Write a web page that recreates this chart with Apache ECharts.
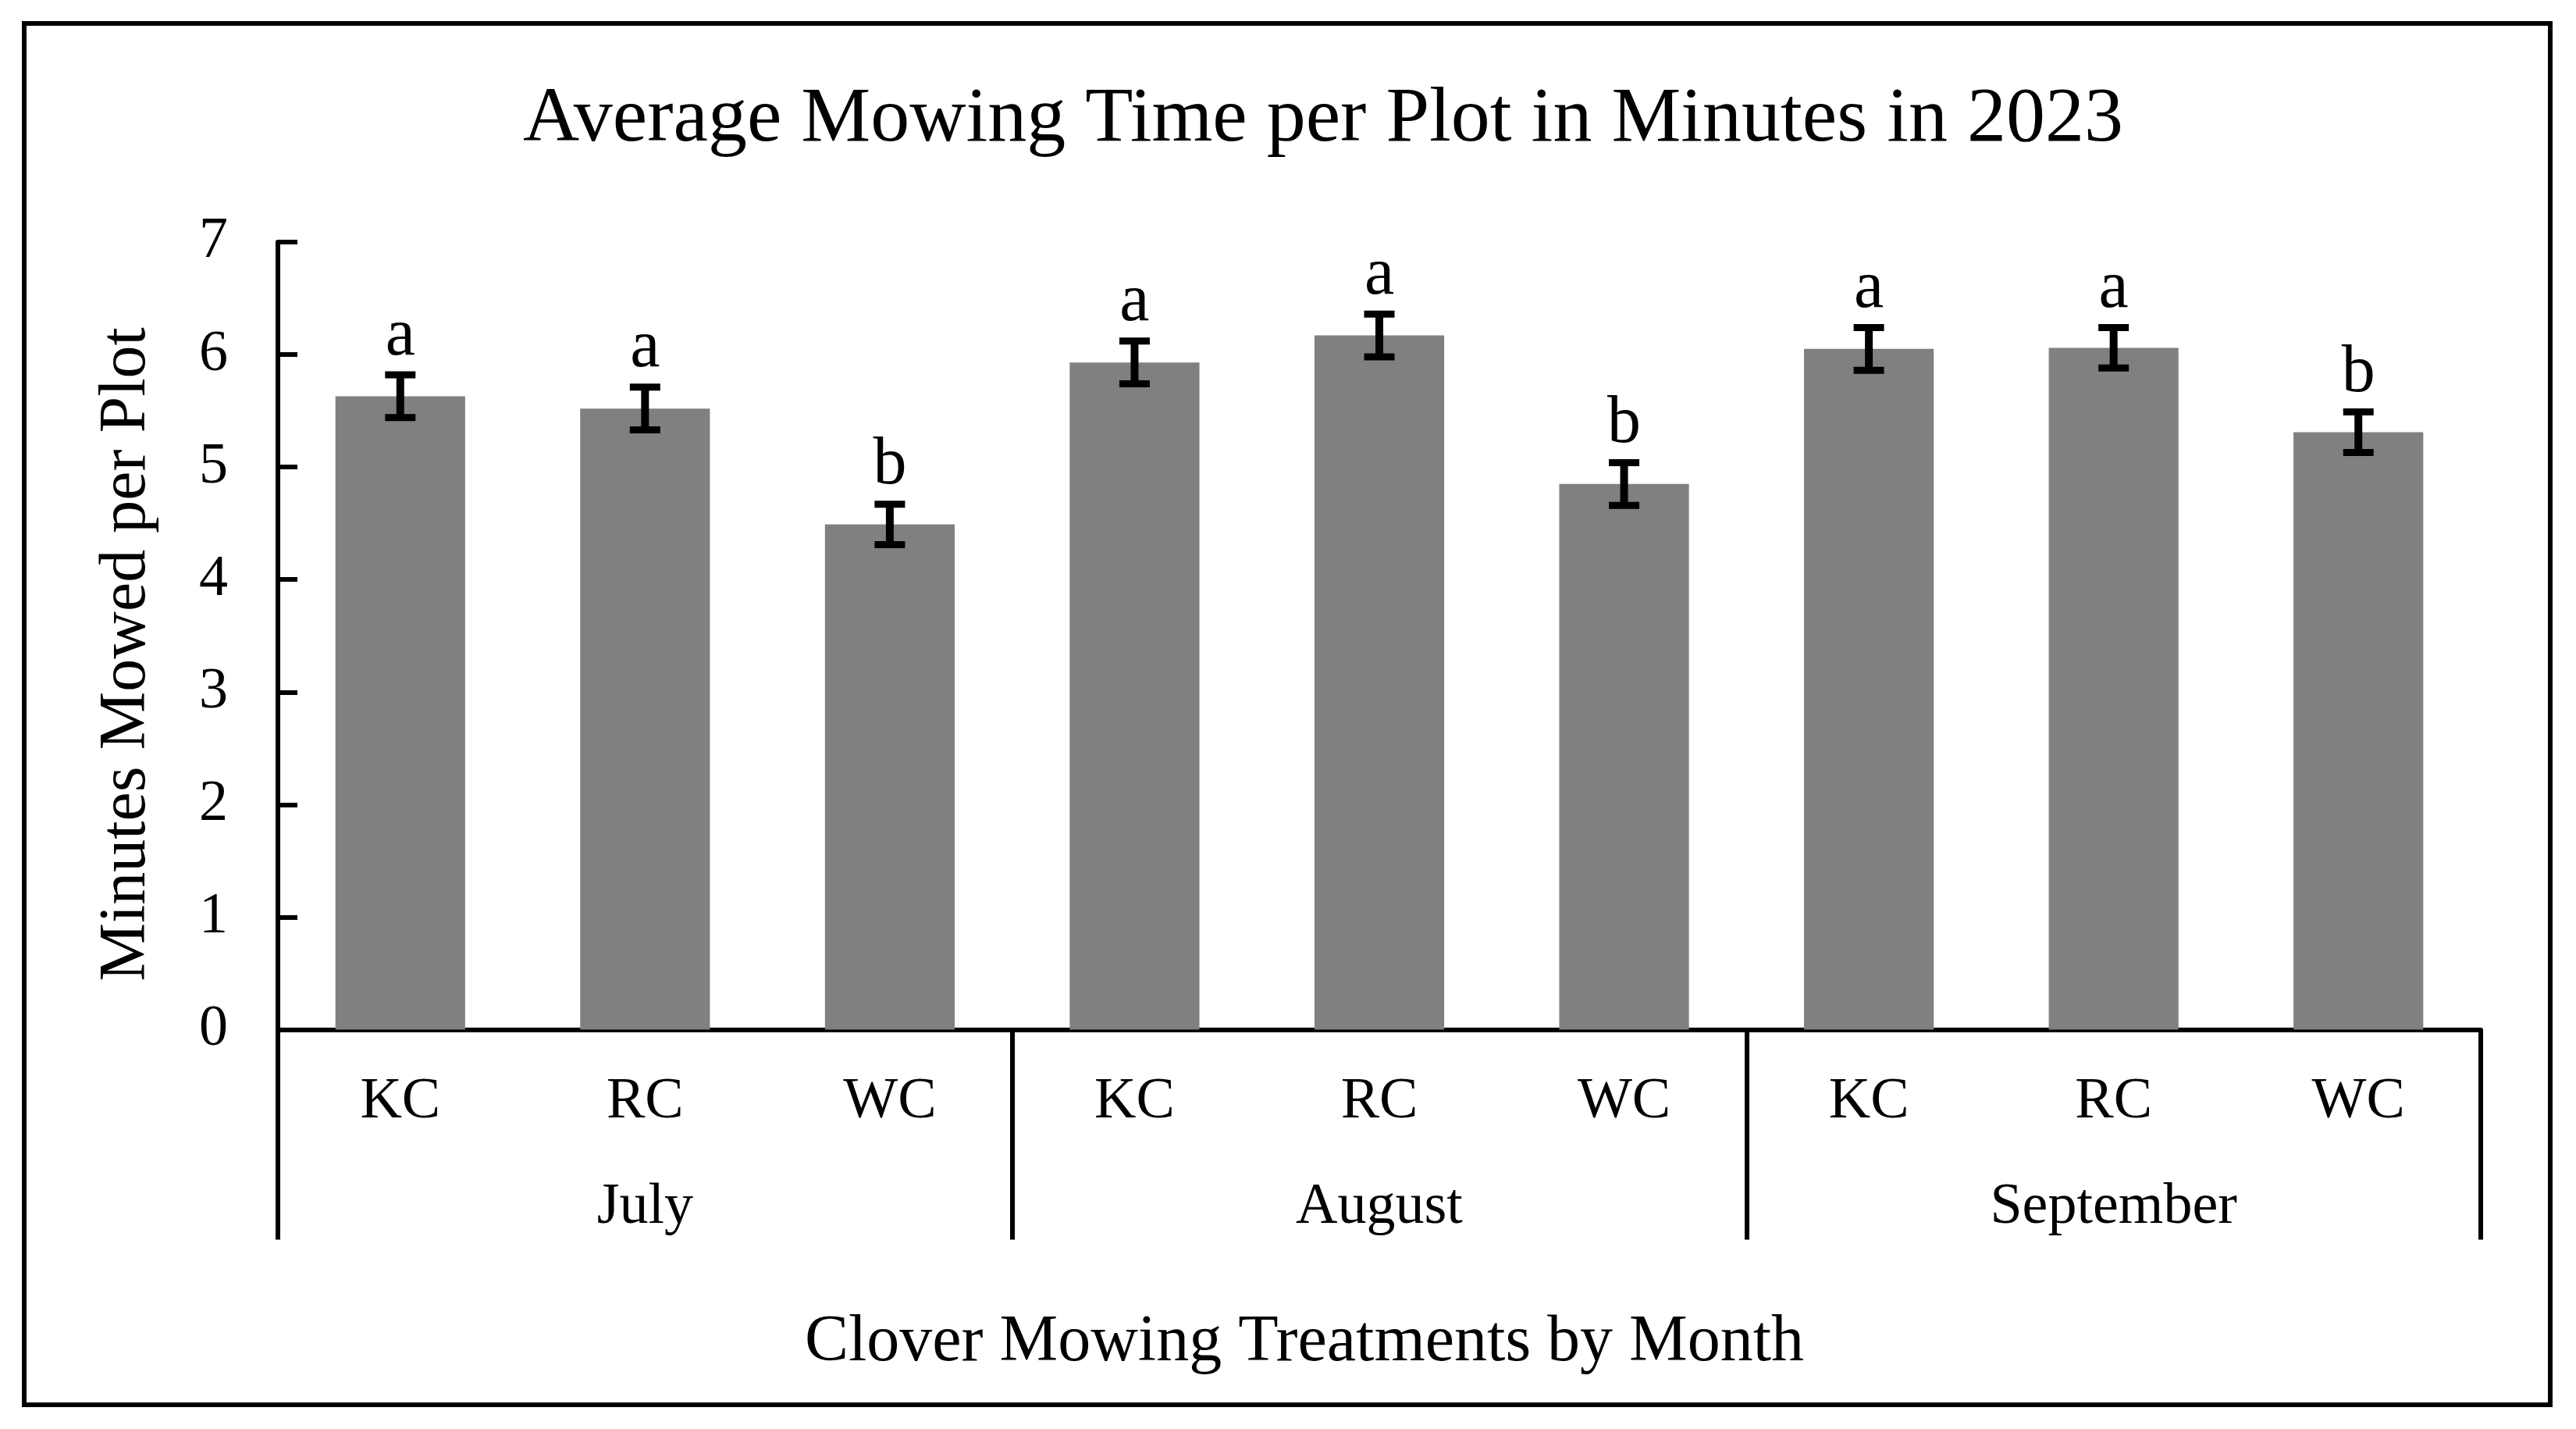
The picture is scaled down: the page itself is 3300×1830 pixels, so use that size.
<!DOCTYPE html>
<html>
<head>
<meta charset="utf-8">
<style>
  html, body { margin: 0; padding: 0; background: #fff; }
  #chart { width: 3300px; height: 1830px; }
</style>
<script src="https://cdn.jsdelivr.net/npm/echarts@6/dist/echarts.min.js"></script>
</head>
<body>
<div id="chart"></div>
<script>
const treatments = ['KC', 'RC', 'WC', 'KC', 'RC', 'WC', 'KC', 'RC', 'WC'];
const months = ['July', 'August', 'September'];
const meanMinutes = [5.63, 5.52, 4.49, 5.93, 6.17, 4.85, 6.05, 6.06, 5.31];
const stdError = [0.19, 0.19, 0.18, 0.19, 0.19, 0.19, 0.19, 0.18, 0.18];
const letters = ['a', 'a', 'b', 'a', 'a', 'b', 'a', 'a', 'b'];
const yMin = 0, yMax = 7, yStep = 1;

const FONT = "'Times New Roman', 'Liberation Serif', serif";
const errData = meanMinutes.map((v, i) => [i, v, stdError[i]]);

const chart = echarts.init(document.getElementById('chart'), null, { renderer: 'canvas' });

chart.setOption({
  animation: false,
  backgroundColor: '#ffffff',
  title: {
    text: 'Average Mowing Time per Plot in Minutes in 2023',
    left: 1690,
    textAlign: 'center',
    top: 99,
    textStyle: { fontFamily: FONT, fontSize: 100, fontWeight: 'normal', color: '#000', lineHeight: 100 }
  },
  grid: { left: 356, right: 122, top: 310, bottom: 511.5, containLabel: false },
  xAxis: [
    {
      type: 'category',
      data: treatments,
      position: 'bottom',
      axisLine: { show: true, lineStyle: { color: '#000', width: 6 } },
      axisTick: { show: false },
      axisLabel: { interval: 0, margin: 56, fontFamily: FONT, fontSize: 74, lineHeight: 74, color: '#000' },
      splitLine: { show: false }
    },
    {
      type: 'category',
      data: months,
      position: 'bottom',
      gridIndex: 0,
      axisLine: { show: false },
      axisTick: { show: true, interval: 0, length: 269, lineStyle: { color: '#000', width: 6 } },
      axisLabel: { interval: 0, margin: 191, fontFamily: FONT, fontSize: 74, lineHeight: 74, color: '#000' },
      splitLine: { show: false }
    }
  ],
  yAxis: {
    type: 'value',
    min: yMin,
    max: yMax,
    interval: yStep,
    axisLine: { show: true, lineStyle: { color: '#000', width: 6 } },
    axisTick: { show: true, inside: true, length: 25, lineStyle: { color: '#000', width: 6 } },
    axisLabel: { margin: 64, fontFamily: FONT, fontSize: 74, lineHeight: 74, color: '#000', padding: [8, 0, 0, 0] },
    splitLine: { show: false }
  },
  graphic: [
    {
      type: 'rect',
      shape: { x: 31, y: 30, width: 3236, height: 1769 },
      style: { fill: 'none', stroke: '#000', lineWidth: 6 },
      silent: true
    },
    {
      type: 'text',
      x: 163, y: 838,
      rotation: Math.PI / 2,
      style: { text: 'Minutes Mowed per Plot', fontFamily: FONT, fontSize: 84, fill: '#000', align: 'center', verticalAlign: 'middle' }
    },
    {
      type: 'text',
      x: 1671, y: 1720,
      style: { text: 'Clover Mowing Treatments by Month', fontFamily: FONT, fontSize: 84, fill: '#000', align: 'center', verticalAlign: 'middle' }
    }
  ],
  series: [
    {
      type: 'bar',
      xAxisIndex: 0,
      data: meanMinutes,
      barWidth: '53%',
      itemStyle: { color: '#808080' },
      silent: true
    },
    {
      type: 'custom',
      xAxisIndex: 0,
      data: errData,
      silent: true,
      z: 5,
      renderItem: function (params, api) {
        const x = api.value(0), v = api.value(1), e = api.value(2);
        const top = api.coord([x, v + e]);
        const bot = api.coord([x, v - e]);
        const hw = 19.5;
        return {
          type: 'group',
          children: [
            { type: 'line', shape: { x1: top[0], y1: top[1], x2: bot[0], y2: bot[1] }, style: { stroke: '#000', lineWidth: 10 } },
            { type: 'line', shape: { x1: top[0] - hw, y1: top[1], x2: top[0] + hw, y2: top[1] }, style: { stroke: '#000', lineWidth: 9 } },
            { type: 'line', shape: { x1: bot[0] - hw, y1: bot[1], x2: bot[0] + hw, y2: bot[1] }, style: { stroke: '#000', lineWidth: 9 } },
            { type: 'text', x: top[0], y: top[1] - 49, style: { text: letters[params.dataIndex], fontFamily: FONT, fontSize: 86, fill: '#000', align: 'center', verticalAlign: 'middle' } }
          ]
        };
      }
    }
  ]
});
</script>
</body>
</html>
